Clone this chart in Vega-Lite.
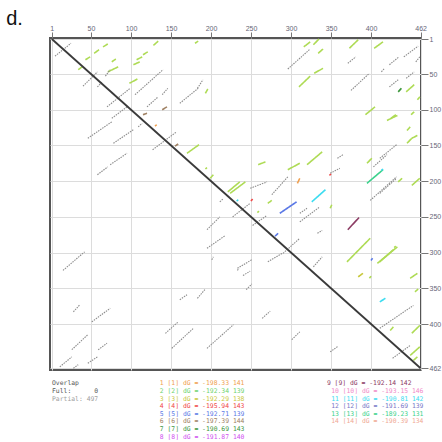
{
"$schema":"https://vega.github.io/schema/vega-lite/v6.json",
"width":371,"height":332,
"autosize":{"type":"none"},
"padding":{"left":50,"top":38,"right":21,"bottom":72},
"background":"white",
"config":{"view":{"stroke":"#555","strokeWidth":2},"font":"Liberation Sans","axis":{"labelOverlap":false}},
"resolve":{"scale":{"x":"independent","y":"independent"}},
"layer":[
{
"encoding":{
"x":{"field":"x","type":"quantitative","scale":{"domain":[-1.25,462.5],"nice":false,"zero":false},
"axis":{"orient":"top","values":[1,50,100,150,200,250,300,350,400,462],"title":null,"domain":false,"tickSize":6,"tickColor":"#777","labelColor":"#667","labelFontSize":7,"labelPadding":1,"gridColor":"#dcdcdc","grid":true,"labelFlush":false,"labelOverlap":false}},
"y":{"field":"y","type":"quantitative","scale":{"domain":[-0.4,464.4],"nice":false,"zero":false,"reverse":true},
"axis":{"orient":"right","values":[1,50,100,150,200,250,300,350,400,462],"title":null,"domain":false,"tickSize":7,"tickColor":"#777","labelColor":"#667","labelFontSize":7,"labelPadding":1,"gridColor":"#dcdcdc","grid":true,"labelFlush":false,"labelOverlap":false}}
},
"layer":[
{
"data":{"values":[
{"x":5,"y":25,"x2":25,"y2":7,"s":"G"},
{"x":34,"y":44,"x2":39,"y2":40,"s":"L"},
{"x":43,"y":30,"x2":49,"y2":26,"s":"L"},
{"x":54,"y":21,"x2":60,"y2":16,"s":"L"},
{"x":65,"y":12,"x2":71,"y2":8,"s":"L"},
{"x":76,"y":33,"x2":81,"y2":29,"s":"L"},
{"x":71,"y":47,"x2":84,"y2":40,"s":"L"},
{"x":103,"y":37,"x2":111,"y2":33,"s":"L"},
{"x":107,"y":30,"x2":114,"y2":26,"s":"L"},
{"x":115,"y":23,"x2":121,"y2":19,"s":"L"},
{"x":128,"y":10,"x2":134,"y2":4,"s":"L"},
{"x":98,"y":63,"x2":108,"y2":57,"s":"L"},
{"x":180,"y":7,"x2":184,"y2":4,"s":"L"},
{"x":193,"y":77,"x2":196,"y2":71,"s":"L"},
{"x":40,"y":67,"x2":58,"y2":47,"s":"G"},
{"x":58,"y":68,"x2":64,"y2":61,"s":"G"},
{"x":68,"y":53,"x2":74,"y2":44,"s":"G"},
{"x":70,"y":96,"x2":99,"y2":70,"s":"G"},
{"x":105,"y":79,"x2":140,"y2":44,"s":"G"},
{"x":120,"y":96,"x2":134,"y2":82,"s":"G"},
{"x":139,"y":79,"x2":146,"y2":70,"s":"G"},
{"x":161,"y":91,"x2":184,"y2":70,"s":"G"},
{"x":183,"y":70,"x2":190,"y2":58,"s":"G"},
{"x":76,"y":112,"x2":95,"y2":96,"s":"G"},
{"x":115,"y":107,"x2":120,"y2":105,"s":"6"},
{"x":139,"y":100,"x2":145,"y2":96,"s":"6"},
{"x":296,"y":43,"x2":323,"y2":16,"s":"G"},
{"x":316,"y":12,"x2":324,"y2":5,"s":"L"},
{"x":328,"y":9,"x2":335,"y2":1,"s":"L"},
{"x":334,"y":21,"x2":340,"y2":15,"s":"L"},
{"x":310,"y":68,"x2":324,"y2":53,"s":"L"},
{"x":329,"y":49,"x2":340,"y2":42,"s":"L"},
{"x":373,"y":14,"x2":384,"y2":2,"s":"L"},
{"x":404,"y":14,"x2":415,"y2":5,"s":"L"},
{"x":371,"y":35,"x2":381,"y2":26,"s":"G"},
{"x":375,"y":73,"x2":398,"y2":49,"s":"G"},
{"x":413,"y":47,"x2":417,"y2":42,"s":"G"},
{"x":423,"y":37,"x2":435,"y2":26,"s":"G"},
{"x":441,"y":26,"x2":459,"y2":11,"s":"G"},
{"x":456,"y":33,"x2":461,"y2":26,"s":"G"},
{"x":423,"y":68,"x2":434,"y2":58,"s":"G"},
{"x":434,"y":75,"x2":438,"y2":70,"s":"7"},
{"x":444,"y":75,"x2":454,"y2":65,"s":"L"},
{"x":444,"y":56,"x2":454,"y2":47,"s":"G"},
{"x":458,"y":86,"x2":461,"y2":82,"s":"L"},
{"x":393,"y":107,"x2":405,"y2":96,"s":"L"},
{"x":425,"y":112,"x2":431,"y2":107,"s":"L"},
{"x":450,"y":107,"x2":454,"y2":103,"s":"L"},
{"x":46,"y":140,"x2":76,"y2":117,"s":"G"},
{"x":78,"y":147,"x2":103,"y2":128,"s":"G"},
{"x":109,"y":124,"x2":114,"y2":119,"s":"G"},
{"x":130,"y":123,"x2":132,"y2":121,"s":"1"},
{"x":127,"y":156,"x2":157,"y2":131,"s":"G"},
{"x":155,"y":151,"x2":159,"y2":148,"s":"6"},
{"x":58,"y":191,"x2":71,"y2":180,"s":"G"},
{"x":74,"y":177,"x2":95,"y2":161,"s":"G"},
{"x":170,"y":161,"x2":185,"y2":149,"s":"L"},
{"x":193,"y":183,"x2":195,"y2":181,"s":"L"},
{"x":199,"y":196,"x2":203,"y2":191,"s":"L"},
{"x":221,"y":215,"x2":236,"y2":201,"s":"L"},
{"x":211,"y":229,"x2":215,"y2":225,"s":"G"},
{"x":195,"y":268,"x2":211,"y2":250,"s":"G"},
{"x":195,"y":294,"x2":218,"y2":276,"s":"G"},
{"x":232,"y":228,"x2":234,"y2":226,"s":"11"},
{"x":259,"y":177,"x2":268,"y2":173,"s":"L"},
{"x":296,"y":184,"x2":311,"y2":175,"s":"L"},
{"x":320,"y":177,"x2":339,"y2":159,"s":"L"},
{"x":358,"y":168,"x2":365,"y2":163,"s":"G"},
{"x":349,"y":189,"x2":361,"y2":182,"s":"G"},
{"x":395,"y":175,"x2":401,"y2":168,"s":"L"},
{"x":403,"y":180,"x2":420,"y2":163,"s":"G"},
{"x":395,"y":203,"x2":415,"y2":184,"s":"13"},
{"x":399,"y":227,"x2":432,"y2":194,"s":"G"},
{"x":434,"y":201,"x2":439,"y2":196,"s":"L"},
{"x":451,"y":206,"x2":461,"y2":196,"s":"L"},
{"x":224,"y":217,"x2":243,"y2":201,"s":"L"},
{"x":249,"y":210,"x2":270,"y2":201,"s":"G"},
{"x":276,"y":219,"x2":296,"y2":194,"s":"G"},
{"x":308,"y":203,"x2":311,"y2":196,"s":"1"},
{"x":250,"y":228,"x2":252,"y2":225,"s":"4"},
{"x":227,"y":250,"x2":249,"y2":231,"s":"G"},
{"x":258,"y":244,"x2":260,"y2":242,"s":"L"},
{"x":271,"y":231,"x2":276,"y2":227,"s":"L"},
{"x":286,"y":245,"x2":307,"y2":229,"s":"5"},
{"x":311,"y":245,"x2":320,"y2":238,"s":"G"},
{"x":326,"y":229,"x2":343,"y2":212,"s":"11"},
{"x":348,"y":192,"x2":350,"y2":190,"s":"4"},
{"x":311,"y":257,"x2":336,"y2":236,"s":"G"},
{"x":349,"y":238,"x2":351,"y2":233,"s":"L"},
{"x":252,"y":262,"x2":270,"y2":248,"s":"G"},
{"x":280,"y":277,"x2":284,"y2":273,"s":"5"},
{"x":290,"y":301,"x2":311,"y2":280,"s":"G"},
{"x":333,"y":273,"x2":339,"y2":269,"s":"G"},
{"x":371,"y":268,"x2":385,"y2":251,"s":"9"},
{"x":233,"y":322,"x2":251,"y2":310,"s":"G"},
{"x":240,"y":332,"x2":249,"y2":326,"s":"G"},
{"x":271,"y":313,"x2":289,"y2":301,"s":"G"},
{"x":328,"y":320,"x2":339,"y2":306,"s":"G"},
{"x":370,"y":313,"x2":399,"y2":280,"s":"L"},
{"x":408,"y":315,"x2":433,"y2":292,"s":"L"},
{"x":400,"y":311,"x2":402,"y2":308,"s":"5"},
{"x":384,"y":334,"x2":390,"y2":329,"s":"3"},
{"x":398,"y":336,"x2":400,"y2":333,"s":"L"},
{"x":420,"y":115,"x2":433,"y2":108,"s":"L"},
{"x":445,"y":129,"x2":449,"y2":124,"s":"L"},
{"x":451,"y":140,"x2":458,"y2":136,"s":"L"},
{"x":445,"y":147,"x2":451,"y2":140,"s":"L"},
{"x":411,"y":168,"x2":432,"y2":149,"s":"G"},
{"x":413,"y":185,"x2":415,"y2":183,"s":"11"},
{"x":411,"y":217,"x2":432,"y2":196,"s":"G"},
{"x":429,"y":293,"x2":431,"y2":291,"s":"L"},
{"x":411,"y":313,"x2":428,"y2":296,"s":"L"},
{"x":449,"y":336,"x2":458,"y2":329,"s":"L"},
{"x":455,"y":355,"x2":459,"y2":351,"s":"L"},
{"x":411,"y":369,"x2":418,"y2":364,"s":"11"},
{"x":411,"y":406,"x2":453,"y2":374,"s":"G"},
{"x":424,"y":409,"x2":428,"y2":404,"s":"L"},
{"x":451,"y":413,"x2":461,"y2":402,"s":"L"},
{"x":427,"y":448,"x2":449,"y2":430,"s":"G"},
{"x":449,"y":444,"x2":461,"y2":432,"s":"L"},
{"x":453,"y":451,"x2":458,"y2":446,"s":"L"},
{"x":15,"y":325,"x2":42,"y2":299,"s":"G"},
{"x":28,"y":383,"x2":36,"y2":373,"s":"G"},
{"x":51,"y":397,"x2":74,"y2":378,"s":"G"},
{"x":161,"y":366,"x2":170,"y2":359,"s":"G"},
{"x":183,"y":364,"x2":193,"y2":351,"s":"G"},
{"x":201,"y":310,"x2":203,"y2":306,"s":"G"},
{"x":233,"y":325,"x2":235,"y2":322,"s":"G"},
{"x":143,"y":413,"x2":159,"y2":397,"s":"G"},
{"x":151,"y":434,"x2":178,"y2":406,"s":"G"},
{"x":195,"y":434,"x2":228,"y2":401,"s":"G"},
{"x":26,"y":436,"x2":46,"y2":415,"s":"G"},
{"x":59,"y":436,"x2":70,"y2":427,"s":"G"},
{"x":11,"y":460,"x2":26,"y2":446,"s":"G"},
{"x":46,"y":455,"x2":58,"y2":446,"s":"G"},
{"x":28,"y":462,"x2":34,"y2":457,"s":"G"},
{"x":244,"y":352,"x2":251,"y2":344,"s":"G"},
{"x":264,"y":392,"x2":274,"y2":382,"s":"G"},
{"x":301,"y":422,"x2":311,"y2":411,"s":"G"},
{"x":349,"y":439,"x2":359,"y2":431,"s":"G"}
]},
"mark":{"type":"rule","strokeCap":"butt"},
"encoding":{
"x2":{"field":"x2"},
"y2":{"field":"y2"},
"strokeWidth":{"condition":{"test":"datum.s === 'G'","value":1.1},"value":1.6},
"strokeDash":{"condition":{"test":"datum.s === 'G'","value":[1.5,1]},"value":[1,0]},
"color":{"field":"s","type":"nominal","legend":null,
"scale":{"domain":["G","L","1","2","3","4","5","6","7","8","9","10","11","12","13","14","T","P","D"],
"range":["#8c8c8c","#aedb55","#f0a050","#6fd36f","#c8c83c","#f04848","#5a78e6","#a08264","#3c963c","#d050f0","#8c3c64","#f08cc8","#3cdcf0","#7878c8","#3cd28c","#f0aa96","#555555","#a0a0a0","#3a3a3a"]}}
}
},
{
"data":{"values":[{"x":1,"y":1,"x2":462,"y2":462,"s":"D"}]},
"mark":{"type":"rule","strokeWidth":1.8},
"encoding":{
"x2":{"field":"x2"},"y2":{"field":"y2"},
"color":{"field":"s","type":"nominal","legend":null}
}
},
{
"data":{"values":[{"t":"d.","x":-56,"y":-19}]},
"mark":{"type":"text","fontSize":20,"align":"left","baseline":"alphabetic","color":"#111","font":"Liberation Sans"},
"encoding":{
"text":{"field":"t"}
}
}
]
},
{
"data":{"values":[
{"t":"Overlap","c":0,"r":1,"s":"T"},
{"t":"Full:\u00a0\u00a0\u00a0\u00a0\u00a0\u00a00","c":0,"r":2,"s":"T"},
{"t":"Partial: 497","c":0,"r":3,"s":"P"},
{"t":"1 [1] dG = -198.33 141","c":28,"r":1,"s":"1"},
{"t":"2 [2] dG = -192.34 139","c":28,"r":2,"s":"2"},
{"t":"3 [3] dG = -192.29 138","c":28,"r":3,"s":"3"},
{"t":"4 [4] dG = -195.94 143","c":28,"r":4,"s":"4"},
{"t":"5 [5] dG = -192.71 139","c":28,"r":5,"s":"5"},
{"t":"6 [6] dG = -197.39 144","c":28,"r":6,"s":"6"},
{"t":"7 [7] dG = -190.69 143","c":28,"r":7,"s":"7"},
{"t":"8 [8] dG = -191.87 140","c":28,"r":8,"s":"8"},
{"t":"9 [9] dG = -192.14 142","c":71.4,"r":1,"s":"9"},
{"t":"10 [10] dG = -193.15 146","c":72.5,"r":2,"s":"10"},
{"t":"11 [11] dG = -190.81 142","c":72.5,"r":3,"s":"11"},
{"t":"12 [12] dG = -191.69 139","c":72.5,"r":4,"s":"12"},
{"t":"13 [13] dG = -189.23 131","c":72.5,"r":5,"s":"13"},
{"t":"14 [14] dG = -190.39 134","c":72.5,"r":6,"s":"14"}
]},
"mark":{"type":"text","font":"DejaVu Sans Mono","fontSize":6.4,"align":"left","baseline":"middle"},
"encoding":{
"x":{"field":"c","type":"quantitative","scale":{"domain":[0,100],"range":[2,387],"nice":false,"zero":false},"axis":null},
"y":{"field":"r","type":"quantitative","scale":{"domain":[1,8],"range":[345.3,398.5],"nice":false,"zero":false},"axis":null},
"text":{"field":"t"},
"color":{"field":"s","type":"nominal","legend":null}
}
}
]
}
